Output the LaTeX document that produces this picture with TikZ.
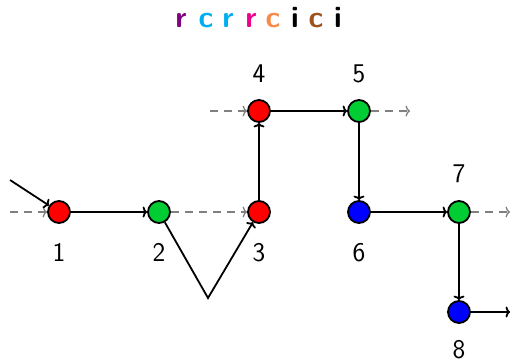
\documentclass[tikz,border=0pt]{standalone}
\usepackage{xcolor}
\usetikzlibrary{arrows.meta}
\definecolor{cgreen}{RGB}{0,204,51}
\definecolor{cpurple}{RGB}{128,0,128}
\definecolor{ccyan}{RGB}{0,174,239}
\definecolor{cmag}{RGB}{236,0,140}
\definecolor{corange}{RGB}{247,137,74}
\definecolor{cbrown}{RGB}{160,82,30}
\begin{document}
\begin{tikzpicture}[x=1pt,y=-1pt,>={To[length=4.5pt,width=11pt]},
  vtx/.style={circle,draw=black,line width=1.8pt,minimum size=22pt,inner sep=0pt},
  lbl/.style={font=\fontsize{27}{30}\selectfont\sffamily,anchor=base,inner sep=0pt},
  ttl/.style={font=\fontsize{30}{34}\selectfont\sffamily\bfseries,anchor=base,inner sep=0pt},
  solid arrow/.style={->,line width=1.8pt},
  dash arrow/.style={->,draw=gray,line width=1.3pt,dash pattern=on 8pt off 6pt}]
\useasboundingbox (0,0) rectangle (511,362);
\node[ttl,text=cpurple] (t1) at (181,27) {r};
\node[ttl,text=ccyan] (t2) at (206,27) {c};
\node[ttl,text=ccyan] (t3) at (228,27) {r};
\node[ttl,text=cmag] (t4) at (251,27) {r};
\node[ttl,text=corange] (t5) at (273,27) {c};
\node[ttl,text=black] (t6) at (295,27) {i};
\node[ttl,text=cbrown] (t7) at (316,27) {c};
\node[ttl,text=black] (t8) at (338,27) {i};
\node[vtx,fill=red] (n1) at (59,212) {};
\node[vtx,fill=cgreen] (n2) at (159,212) {};
\node[vtx,fill=red] (n3) at (259,212) {};
\node[vtx,fill=red] (n4) at (259,111) {};
\node[vtx,fill=cgreen] (n5) at (359,111) {};
\node[vtx,fill=blue] (n6) at (359,212) {};
\node[vtx,fill=cgreen] (n7) at (459,212) {};
\node[vtx,fill=blue] (n8) at (459,312) {};
\node[lbl] (l1) at (59,261) {1};
\node[lbl] (l2) at (159,261) {2};
\node[lbl] (l3) at (259,261) {3};
\node[lbl] (l4) at (259,82) {4};
\node[lbl] (l5) at (359,82) {5};
\node[lbl] (l6) at (359,261) {6};
\node[lbl] (l7) at (459,182) {7};
\node[lbl] (l8) at (459,358) {8};
\coordinate (a0) at (10,180);
\coordinate (d0) at (10,212);
\coordinate (d4) at (210,111);
\coordinate (d5) at (410,111);
\coordinate (d7) at (510,212);
\coordinate (e8) at (510,312);
\coordinate (v) at (208,298);
\draw[dash arrow] (d0) -- (n1);
\draw[solid arrow] (a0) -- (n1);
\draw[solid arrow] (n1) -- (n2);
\draw[dash arrow] (n2) -- (n3);
\draw[solid arrow] (n2) -- (v) -- (n3);
\draw[solid arrow] (n3) -- (n4);
\draw[dash arrow] (d4) -- (n4);
\draw[solid arrow] (n4) -- (n5);
\draw[dash arrow] (n5) -- (d5);
\draw[solid arrow] (n5) -- (n6);
\draw[solid arrow] (n6) -- (n7);
\draw[dash arrow] (n7) -- (d7);
\draw[solid arrow] (n7) -- (n8);
\draw[solid arrow] (n8) -- (e8);
\end{tikzpicture}
\end{document}
